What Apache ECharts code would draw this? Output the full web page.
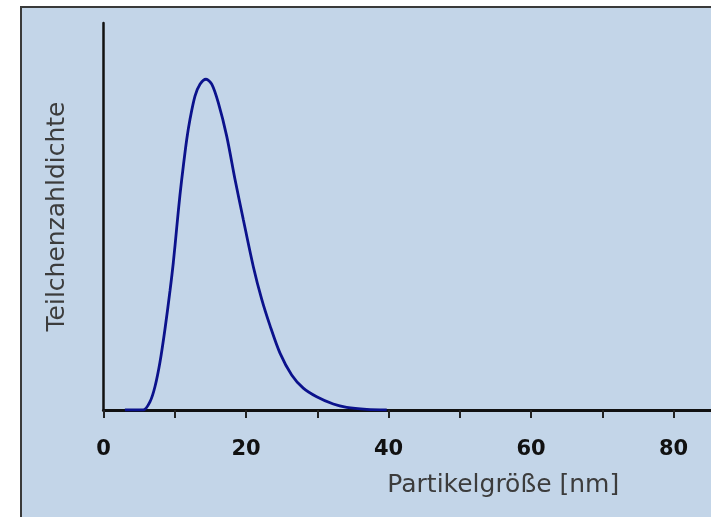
<!DOCTYPE html>
<html>
<head>
<meta charset="utf-8">
<script src="https://cdn.jsdelivr.net/npm/echarts@6/dist/echarts.min.js"></script>
<style>html,body{margin:0;padding:0;background:#fff;}#c{width:711px;height:517px;}</style>
</head>
<body>
<div id="c"></div>
<script>
// Particle size [nm] and relative number density (peak = 1)
const sizes = [3.0, 5.59, 6.53, 7.23, 7.93, 8.63, 9.33, 9.80, 10.27, 10.74, 11.20, 11.68, 12.14, 12.84, 13.54, 14.39, 15.19, 16.11, 17.29, 18.46, 19.62, 21.02, 22.20, 23.37, 24.77, 26.41, 28.04, 29.92, 32.25, 34.13, 36.94, 39.75];
const density = [0, 0, 0.025, 0.071, 0.145, 0.245, 0.360, 0.446, 0.550, 0.652, 0.737, 0.818, 0.879, 0.949, 0.985, 1.0, 0.985, 0.929, 0.828, 0.697, 0.576, 0.434, 0.335, 0.255, 0.172, 0.106, 0.066, 0.040, 0.018, 0.008, 0.002, 0];
const xTickLabels = [0, 20, 40, 60, 80];
const xAxisTitle = 'Partikelgröße [nm]';
const yAxisTitle = 'Teilchenzahldichte';

const chart = echarts.init(document.getElementById('c'));
const font = 'DejaVu Sans';
chart.setOption({
  backgroundColor: '#ffffff',
  animation: false,
  graphic: [{
    type: 'rect', z: -10, silent: true,
    shape: { x: 21, y: 7, width: 720, height: 530 },
    style: { fill: '#c3d5e8', stroke: '#3a3a3a', lineWidth: 2 }
  }],
  grid: { left: 103.5, top: 23, right: 0, bottom: 107 },
  xAxis: {
    type: 'value', min: 0, max: 85.26, interval: 10,
    name: xAxisTitle, nameLocation: 'middle', nameGap: 63,
    nameTextStyle: { fontFamily: font, fontSize: 25, color: '#3c3c3c', padding: [0, 0, 0, 192] },
    axisLine: { show: true, lineStyle: { color: '#111', width: 3 } },
    axisTick: { show: true, length: 8, lineStyle: { color: '#222', width: 2 } },
    axisLabel: {
      margin: 29, fontFamily: font, fontSize: 21, fontWeight: 'bold', color: '#111',
      showMaxLabel: false,
      formatter: v => xTickLabels.indexOf(v) >= 0 ? String(v) : ''
    },
    splitLine: { show: false }
  },
  yAxis: {
    type: 'value', min: 0, max: 1.17,
    name: yAxisTitle, nameLocation: 'middle', nameGap: 34,
    nameTextStyle: { fontFamily: font, fontSize: 25, color: '#3c3c3c' },
    axisLine: { show: true, lineStyle: { color: '#111', width: 2.5 } },
    axisTick: { show: false },
    axisLabel: { show: false },
    splitLine: { show: false }
  },
  series: [{
    type: 'line', smooth: 0.3, symbol: 'none', z: 5,
    data: sizes.map((s, i) => [s, density[i]]),
    lineStyle: { color: '#0b128c', width: 2.8 }
  }]
});
</script>
</body>
</html>
